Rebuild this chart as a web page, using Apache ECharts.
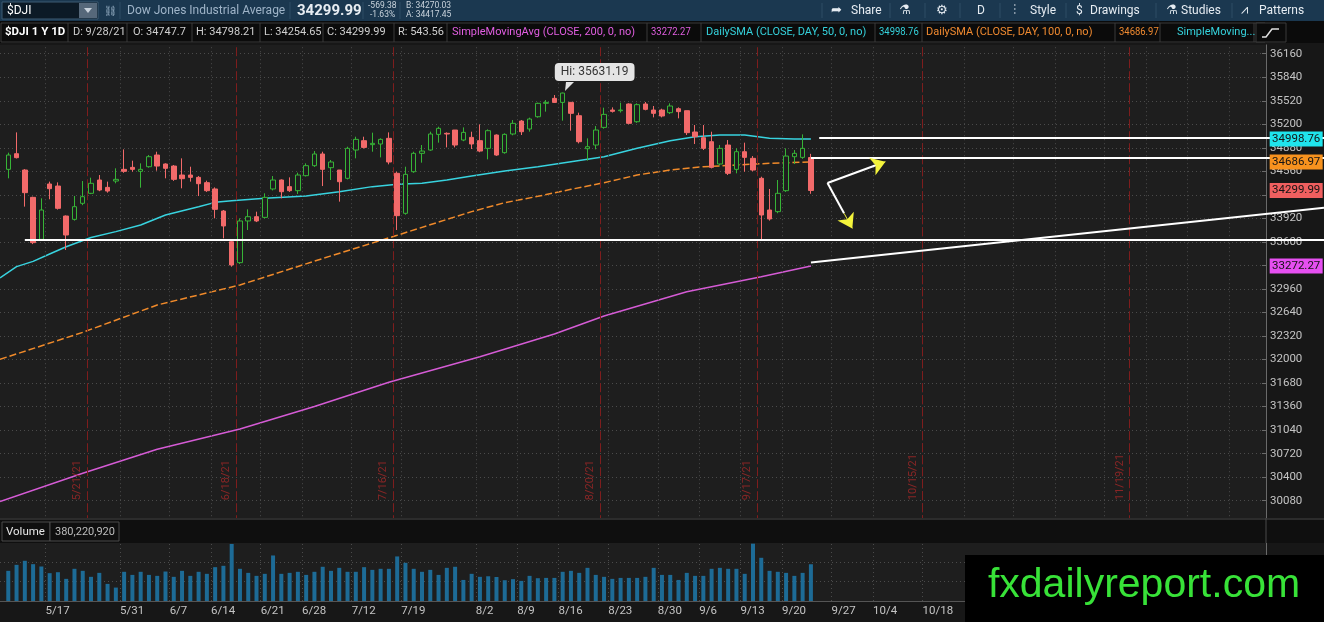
<!DOCTYPE html>
<html>
<head>
<meta charset="utf-8">
<title>$DJI 1 Y 1D</title>
<script src="https://cdn.jsdelivr.net/npm/echarts@6.0.0/dist/echarts.min.js"></script>
<style>
  html, body { margin: 0; padding: 0; background: #161616; }
  .demo { width: 1324px; height: 622px; }
</style>
</head>
<body>
<div class="demo"></div>
<script>
// trading days as the feed shows them (5/14 and 6/2 are missing in this chart)
const skipDays = ['2021-05-14', '2021-05-31', '2021-06-02', '2021-07-05', '2021-09-06', '2021-11-25']
const categories = []
for (let d = new Date(Date.UTC(2021, 4, 6)); categories.length < 161; d.setUTCDate(d.getUTCDate() + 1)) {
  const wd = d.getUTCDay()
  if (wd === 0 || wd === 6 || skipDays.includes(d.toISOString().slice(0, 10))) continue
  categories.push((d.getUTCMonth() + 1) + '/' + d.getUTCDate() + '/21')
}

// daily OHLC, index = trading day on the axis (0 is off the left edge)
const opens = [null,
  34587,34800,34578,34206,33635,34388,34360,33952,33907,34125,
  34261,34442,34342,34428,34587,34614,34560,34623,34782,34660,
  34632,34510,34510,34478,34406,34320,34020,33603,33318,33885,
  33943,33934,34320,34442,34352,34297,34501,34637,34796,34610,
  34578,34465,34850,34977,34923,34932,35009,34533,33989,34555,
  34805,34850,35063,35077,35122,34986,35022,34977,34873,35054,
  34814,35068,35244,35136,35303,35485,35553,35498,35498,35317,
  34868,34918,35158,35394,35385,35476,35235,35476,35394,35394,
  35358,35412,35385,35095,35018,34963,34660,34918,34587,34827,
  34737,34465,34034,34012,34297,34759,34750,34747.7]
const closes = [null,
  34782,34746,34270,33590,34034,34324,34057,33694,34079,34215,
  34397,34306,34292,34451,34560,34587,34587,34759,34632,34601,
  34451,34460,34478,34392,34297,34043,33817,33286,33885,33943,
  33885,34206,34442,34283,34297,34510,34637,34796,34587,34687,
  34419,34873,34995,34886,34941,34995,34687,33957,34519,34805,
  34836,35068,35145,35068,34918,35090,34932,34836,35113,34782,
  35063,35213,35099,35272,35485,35498,35498,35625,35349,34963,
  34895,35122,35335,35376,35394,35213,35467,35403,35349,35313,
  35449,35372,35086,35031,34873,34614,34873,34533,34827,34750,
  34578,33966,33912,34261,34768,34805,34873,34299.99]
const lows = [null,
  34465,34735,34080,33570,33625,34180,34040,33490,33890,34100,
  34250,34290,34270,34397,34540,34555,34338,34610,34569,34465,
  34430,34329,34420,34224,34280,33921,33649,33263,33300,33762,
  33870,33920,34300,34193,34280,34252,34490,34620,34360,34442,
  34148,34450,34737,34870,34827,34750,34655,33762,33970,34540,
  34678,34840,34950,34886,34886,34970,34864,34820,34723,34770,
  34800,35050,35054,35100,35290,35372,35490,35249,35113,34940,
  34705,34859,35140,35360,35360,35200,35220,35390,35294,35294,
  35340,35281,35054,34932,34850,34600,34640,34510,34533,34555,
  34560,33635,33890,33990,34280,34660,34730,34254.65]
const highs = [null,
  34814,35090,34590,34215,34193,34420,34410,33960,34225,34428,
  34474,34510,34420,34601,34859,34705,34669,34782,34827,34669,
  34646,34737,34623,34496,34433,34342,34034,33626,33921,34043,
  34011,34261,34496,34450,34478,34542,34669,34836,34827,34714,
  34578,34895,35031,35031,35086,35009,35090,34555,34623,34827,
  34918,35099,35167,35090,35122,35158,35099,35199,35131,35063,
  35077,35258,35258,35290,35494,35530,35598,35631.19,35500,35358,
  35009,35176,35426,35430,35494,35485,35485,35503,35449,35412,
  35485,35430,35385,35190,35190,35099,34918,34986,34873,34950,
  34768,34487,34320,34442,34873,34850,35063,34798.21]
// volume, millions
const volumes = [null,
  312,374,416,381,357,288,298,229,333,312,
  250,291,177,139,302,270,302,270,260,305,
  250,312,260,302,281,350,364,590,333,291,
  260,281,471,281,291,302,270,302,354,312,
  343,302,302,350,322,333,333,461,395,333,
  302,322,270,343,354,218,281,250,256,248,
  215,226,208,260,236,239,239,302,312,291,
  343,270,250,229,239,239,239,250,343,270,
  270,218,291,260,260,333,343,333,333,281,
  593,447,312,302,291,260,291,380.22]

// moving averages: [day index, value]
const sma50 = [[0,33110],[2,33264],[4,33335],[6,33436],[8,33535],[11,33660],[14,33740],[17,33830],[20,33966],[24,34079],[26,34138],[28,34161],[32,34193],[37,34225],[41,34283],[45,34352],[48,34383],[51,34397],[54,34442],[57,34496],[61,34564],[65,34623],[69,34691],[73,34759],[77,34873],[81,34977],[84,35031],[87,35054],[90,35054],[93,35009],[96,35000],[98,34998.76]]
const sma100 = [[0,32003],[10,32370],[19,32742],[29,33014],[40,33410],[48,33690],[53,33870],[57,34012],[61,34134],[65,34220],[69,34315],[73,34406],[77,34510],[81,34578],[85,34623],[89,34646],[93,34669],[98,34686.97]]
const sma200 = [[0,30068],[10,30453],[19,30779],[29,31056],[38,31360],[47,31690],[58,32039],[67,32348],[73,32592],[83,32923],[92,33127],[98,33272.27]]

const expiryDates = ['5/21/21', '6/18/21', '7/16/21', '8/20/21', '9/17/21', '10/15/21', '11/19/21']
const tickLabels = ['5/17','5/31','6/7','6/14','6/21','6/28','7/12','7/19','8/2','8/9','8/16','8/23','8/30','9/6','9/13','9/20','9/27','10/4','10/18']
// where the platform drew those ticks (slot on the half-shifted axis)
const tickSlots = [5,14,20,25,31,36,42,48,57,62,67,73,79,84,89,94,100,105,111]
const extraGridSlots = [116,122,127,133,138,143,148]

// drawn levels
const resistance = 35013
const openLevel = 34747.7
const support = 33626
const trendFrom = [98, 33320], trendTo = [160, 34066]
const lastValues = { sma50: 34998.76, sma100: 34686.97, close: 34299.99, sma200: 33272.27 }

const catsPrice = categories.slice(0, 154)
const catsHalf = categories.slice(0, 153)

const candleData = opens.map((o, i) => o == null ? '-' : [o, closes[i], lows[i], highs[i]])
const volData = volumes.map(v => v == null ? '-' : v)

const dotted = { type: [1, 3], color: '#4b4b4b', width: 1 }
const hiddenAxis = { show: false }

const chartinstance = echarts.init(document.querySelector('.demo'))

// header strips
const txt = (x, y, text, fill, font, extra) => Object.assign({
  type: 'text', x: x, y: y, z: 100,
  style: { text: text, fill: fill, font: font || '11px Roboto', verticalAlign: 'middle', align: 'left' }
}, extra || {})
const rect = (x, y, w, h, fill, stroke) => ({
  type: 'rect', z: 99, shape: { x: x, y: y, width: w, height: h },
  style: { fill: fill, stroke: stroke || null, lineWidth: 1 }
})
const vline = (x, y1, y2, c) => ({ type: 'line', z: 100, shape: { x1: x, y1: y1, x2: x, y2: y2 }, style: { stroke: c, lineWidth: 1 } })

const studyRow = [
  [5, '$DJI 1 Y 1D', '#ffffff', 'bold 11.5px Roboto'],
  [73, 'D: 9/28/21', '#cfcfcf'],
  [133, 'O: 34747.7', '#cfcfcf'],
  [196, 'H: 34798.21', '#cfcfcf'],
  [264, 'L: 34254.65', '#cfcfcf'],
  [327, 'C: 34299.99', '#cfcfcf'],
  [398, 'R: 543.56', '#cfcfcf'],
  [452, 'SimpleMovingAvg (CLOSE, 200, 0, no)', '#e15ee1'],
  [651, '33272.27', '#e15ee1'],
  [706, 'DailySMA (CLOSE, DAY, 50, 0, no)', '#35d2dc'],
  [879, '34998.76', '#35d2dc'],
  [926, 'DailySMA (CLOSE, DAY, 100, 0, no)', '#f08a30'],
  [1119, '34686.97', '#f08a30'],
  [1177, 'SimpleMoving...', '#35d2dc']
]
const studySeps = [68, 127, 192, 260, 323, 394, 447, 647, 701, 875, 922, 1115, 1160, 1254]
const tools = [[831, '➦'], [851, 'Share'], [899, '⚗'], [936, '⚙'], [977, 'D'], [1013, '⫶'], [1030, 'Style'], [1076, '$'], [1090, 'Drawings'], [1166, '⚗'], [1181, 'Studies'], [1241, '⩘'], [1259, 'Patterns']]
const toolSeps = [822, 890, 925, 960, 1000, 1066, 1156, 1232]

const watermark = txt(1144, 586, 'fxdailyreport.com', '#38e238', '41px "Liberation Sans"')
watermark.style.align = 'center'

const gfx = [
  rect(0, 0, 1324, 21, '#1b3850'),
  rect(2, 2, 96, 17, '#0c1a26', '#3d5a72'),
  rect(79, 3, 18, 15, '#56687a'),
  { type: 'polygon', z: 100, shape: { points: [[84, 8], [92, 8], [88, 13]] }, style: { fill: '#c8d2dc' } },
  txt(7, 11, '$DJI', '#ffffff', '12px Roboto'),
  txt(104, 11, '⛓', '#8fa8bd', '10px DejaVu Sans'),
  txt(127, 11, 'Dow Jones Industrial Average', '#9fb4c8', '12px Roboto'),
  txt(297, 11, '34299.99', '#e8edf2', 'bold 15px Roboto'),
  txt(368, 6, '-569.38', '#c9d3dc', '8.5px Roboto'),
  txt(370, 15, '-1.63%', '#c9d3dc', '8.5px Roboto'),
  txt(406, 6, 'B: 34270.03', '#c9d3dc', '8.5px Roboto'),
  txt(406, 15, 'A: 34417.45', '#c9d3dc', '8.5px Roboto'),
  vline(120, 2, 19, '#2e4c64'), vline(290, 2, 19, '#2e4c64'), vline(363, 2, 19, '#2e4c64'), vline(400, 2, 19, '#2e4c64'),
  rect(0, 21, 1324, 22, '#0b0b0b'),
  rect(1, 23, 1264, 19, null, '#3a3a3a'),
  rect(1256, 23, 30, 19, '#0b0b0b', '#3a3a3a'),
  { type: 'polyline', z: 100, shape: { points: [[1262, 37], [1266, 37], [1272, 29], [1279, 29]] }, style: { stroke: '#e0e0e0', lineWidth: 1.5, fill: null } },
  // panel separator + volume header
  rect(0, 518, 1324, 25, '#0f0f0f'),
  { type: 'line', z: 100, shape: { x1: 0, y1: 519, x2: 1324, y2: 519 }, style: { stroke: '#4a4a4a', lineWidth: 1 } },
  rect(2, 522, 48, 19, '#0f0f0f', '#4a4a4a'),
  rect(50, 522, 69, 19, '#0f0f0f', '#4a4a4a'),
  txt(6, 532, 'Volume', '#e6e6e6', '11.5px Roboto'),
  txt(55, 532, '380,220,920', '#bdbdbd', '11px Roboto'),
  vline(1266, 518, 543, '#4a4a4a'),
  // watermark
  rect(965, 555, 359, 67, '#000000'),
  watermark,
  // Hi bubble tail
  { type: 'polygon', z: 90, shape: { points: [[566, 82], [574, 82], [565, 91]] }, style: { fill: '#e4e4e4' } }
]
studySeps.forEach(x => gfx.push(vline(x, 23, 42, '#3a3a3a')))
studyRow.forEach(r => gfx.push(txt(r[0], 32.5, r[1], r[2], r[3] || '11px Roboto', /^[\d.]+$/.test(r[1]) ? { scaleX: 0.86 } : null)))
toolSeps.forEach(x => gfx.push(vline(x, 3, 18, '#2e4c64')))
tools.forEach(t => gfx.push(txt(t[0], 10.5, t[1], '#e6ecf2', /[A-Za-z$]/.test(t[1]) ? '12px Roboto' : '13px "DejaVu Sans"')))

const option = {
  animation: false,
  backgroundColor: '#171717',
  textStyle: { fontFamily: 'Roboto' },
  grid: [
    { left: 0, top: 44.9, width: 1266, height: 479.3, show: true, backgroundColor: '#1e1e1e', borderWidth: 0, containLabel: false, outerBoundsMode: 'none' },
    { left: 0, top: 44.9, width: 1324, height: 479.3, containLabel: false, outerBoundsMode: 'none' },
    { left: 0, top: 543, width: 1266, height: 58, show: true, backgroundColor: '#1e1e1e', borderWidth: 0, containLabel: false, outerBoundsMode: 'none' }
  ],
  xAxis: [
    { type: 'category', gridIndex: 0, position: 'bottom', data: catsPrice, boundaryGap: false, axisLine: hiddenAxis, axisTick: hiddenAxis, axisLabel: hiddenAxis, splitLine: hiddenAxis },
    { type: 'category', gridIndex: 0, position: 'top', data: catsHalf, boundaryGap: true, axisLine: hiddenAxis, axisTick: hiddenAxis, axisLabel: hiddenAxis, splitLine: hiddenAxis },
    { type: 'category', gridIndex: 1, position: 'bottom', data: categories, boundaryGap: false, axisLine: hiddenAxis, axisTick: hiddenAxis, axisLabel: hiddenAxis, splitLine: hiddenAxis },
    { type: 'category', gridIndex: 2, position: 'top', data: catsPrice, boundaryGap: false, axisLine: hiddenAxis, axisTick: hiddenAxis, axisLabel: hiddenAxis, splitLine: hiddenAxis },
    {
      type: 'category', gridIndex: 2, position: 'bottom', data: catsHalf, boundaryGap: true,
      axisLine: { show: true, lineStyle: { color: '#555' } },
      axisTick: hiddenAxis, splitLine: hiddenAxis,
      axisLabel: {
        show: true, color: '#c4c4c4', fontSize: 11.5, align: 'left', margin: 4,
        interval: idx => tickSlots.includes(idx),
        formatter: (v, idx) => tickLabels[tickSlots.indexOf(idx)] || ''
      }
    }
  ],
  yAxis: [
    { type: 'value', gridIndex: 0, min: 29760, max: 36280, interval: 320, axisLine: hiddenAxis, axisTick: hiddenAxis, axisLabel: hiddenAxis,
      splitLine: { show: true, showMinLine: false, showMaxLine: false, lineStyle: dotted } },
    { type: 'value', gridIndex: 1, position: 'right', offset: -58, min: 29760, max: 36280, interval: 320,
      axisLine: { show: true, lineStyle: { color: '#6a6a6a' } },
      axisTick: { show: true, inside: true, length: 4, lineStyle: { color: '#6a6a6a' } },
      axisLabel: { show: true, color: '#c4c4c4', fontSize: 11.5, margin: 4, showMinLabel: false, showMaxLabel: false, formatter: v => String(v) },
      splitLine: hiddenAxis },
    { type: 'value', gridIndex: 2, position: 'right', min: 0, max: 600, interval: 200,
      axisLine: { show: true, lineStyle: { color: '#6a6a6a' } }, axisTick: hiddenAxis, axisLabel: hiddenAxis,
      splitLine: { show: true, showMinLine: false, showMaxLine: false, lineStyle: dotted } }
  ],
  graphic: { elements: gfx },
  series: [
    {
      name: 'grid & expiry', type: 'line', xAxisIndex: 1, yAxisIndex: 0, data: [], z: 1, silent: true,
      markLine: {
        silent: true, symbol: ['none', 'none'], animation: false,
        data: tickSlots.concat(extraGridSlots).map(j => ({ xAxis: catsHalf[j], lineStyle: dotted, label: { show: false } }))
          .concat(expiryDates.map(d => ({
            xAxis: d, name: d,
            lineStyle: { type: [9, 3], color: '#7e1d1d', width: 1 },
            label: { show: true, formatter: '{b}', position: 'insideStartTop', distance: [24, 4], color: '#8a2626', fontSize: 11 }
          })))
      }
    },
    {
      name: 'SMA200', type: 'line', xAxisIndex: 0, yAxisIndex: 0, data: sma200, showSymbol: false, symbol: 'none',
      lineStyle: { color: '#d55bd5', width: 1.5 }, z: 3
    },
    {
      name: 'SMA100', type: 'line', xAxisIndex: 0, yAxisIndex: 0, data: sma100, showSymbol: false, symbol: 'none',
      lineStyle: { color: '#f08a2a', width: 1.5, type: [7, 3] }, z: 3
    },
    {
      name: 'SMA50', type: 'line', xAxisIndex: 0, yAxisIndex: 0, data: sma50, showSymbol: false, symbol: 'none',
      lineStyle: { color: '#38d3df', width: 1.5 }, z: 3
    },
    {
      name: '$DJI', type: 'candlestick', xAxisIndex: 0, yAxisIndex: 0, data: candleData, barWidth: 5, z: 4,
      itemStyle: { color: '#1e1e1e', borderColor: '#37b437', color0: '#f26a6a', borderColor0: '#f26a6a', borderWidth: 1 },
      markPoint: {
        symbol: 'rect', symbolSize: 1, itemStyle: { color: 'rgba(0,0,0,0)' }, animation: false,
        data: [{ coord: [68, 35631.19], value: 35631.19 }],
        label: {
          show: true, position: 'top', distance: 8, offset: [32, -3],
          formatter: p => 'Hi: ' + p.value,
          backgroundColor: '#e4e4e4', color: '#333', fontSize: 12, padding: [3, 6], borderRadius: 4
        }
      }
    },
    {
      name: 'drawings', type: 'line', xAxisIndex: 2, yAxisIndex: 1, data: [], z: 6, silent: true,
      markLine: {
        silent: true, symbol: ['none', 'none'], animation: false,
        lineStyle: { color: '#ffffff', width: 2, type: 'solid' },
        label: { show: false },
        data: [
          [{ coord: [99, resistance] }, { coord: [160, resistance] }],
          [{ coord: [98, openLevel] }, { coord: [160, openLevel] }],
          [{ coord: [3, support] }, { coord: [160, support] }],
          [{ coord: trendFrom }, { coord: trendTo }],
          [{ coord: [100, 34402] }, { coord: [106, 34650] }],
          [{ coord: [100, 34402] }, { coord: [102, 33990] }],
          [{ coord: [106, 34650], symbol: 'none' }, { coord: [107, 34691], symbol: 'arrow', symbolSize: 14, lineStyle: { color: '#f4f43c', width: 1 } }],
          [{ coord: [102, 33990], symbol: 'none' }, { coord: [103, 33784], symbol: 'arrow', symbolSize: 14, lineStyle: { color: '#f4f43c', width: 1 } }]
        ]
      },
      markPoint: {
        symbol: 'rect', symbolSize: [53, 15], symbolOffset: [-3, 0], animation: false,
        label: { show: true, position: 'inside', color: '#141414', fontSize: 11.5, formatter: p => Number(p.value).toFixed(2) },
        data: [
          { coord: [157, lastValues.sma50], value: lastValues.sma50, itemStyle: { color: '#1fe4ec' } },
          { coord: [157, lastValues.sma100], value: lastValues.sma100, itemStyle: { color: '#f7921e' } },
          { coord: [157, lastValues.close], value: lastValues.close, itemStyle: { color: '#ef5f5f' } },
          { coord: [157, lastValues.sma200], value: lastValues.sma200, itemStyle: { color: '#e54ff0' } }
        ]
      }
    },
    {
      name: 'Volume', type: 'bar', xAxisIndex: 3, yAxisIndex: 2, data: volData, barWidth: 4,
      itemStyle: { color: '#1d6b96' }, z: 3
    },
    {
      name: 'volume grid', type: 'line', xAxisIndex: 4, yAxisIndex: 2, data: [], z: 1, silent: true,
      markLine: {
        silent: true, symbol: ['none', 'none'], animation: false, label: { show: false },
        data: tickSlots.map(j => ({ xAxis: catsHalf[j], lineStyle: dotted }))
      }
    }
  ]
}
option && chartinstance.setOption(option)
window.addEventListener('resize', () => {
  chartinstance.resize()
})
</script>
</body>
</html>
